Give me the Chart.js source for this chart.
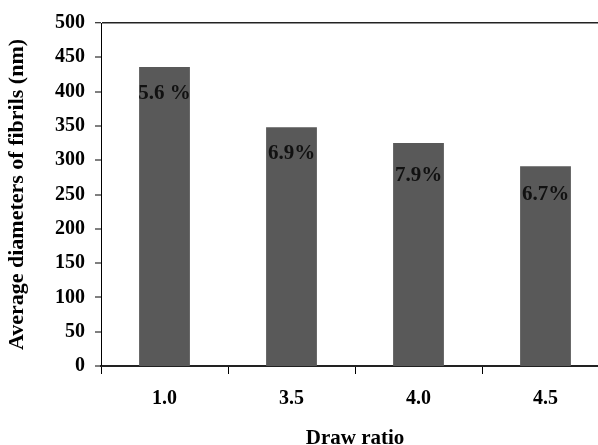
<!DOCTYPE html>
<html>
<head>
<meta charset="utf-8">
<script src="https://cdn.jsdelivr.net/npm/chart.js@4.4.1/dist/chart.umd.min.js"></script>
<style>
  html, body { margin: 0; padding: 0; background: #fff; overflow: hidden; }
  #wrap { position: relative; width: 609px; height: 445px; }
</style>
</head>
<body>
<div id="wrap"><canvas id="chart"></canvas></div>
<script>
// draw ratios on the x axis
const drawRatios = ['1.0', '3.5', '4.0', '4.5'];
// average fibril diameter (nm)
const diameters = [436, 348, 325, 291];
// text written on each bar
const barNotes = ['5.6 %', '6.9%', '7.9%', '6.7%'];
// y axis range / step
const yMin = 0, yMax = 500, yStep = 50;

const serif = "'Liberation Serif', 'Times New Roman', serif";
const ink = '#000';

// how far below the top of each bar its note sits (px)
const noteDrop = [27, 26, 33, 28];

const barNotesPlugin = {
    id: 'barNotes',
    afterDatasetsDraw(chart) {
        const ctx = chart.ctx;
        const meta = chart.getDatasetMeta(0);
        ctx.save();
        ctx.font = `bold 21px ${serif}`;
        ctx.fillStyle = '#111';
        ctx.textAlign = 'center';
        ctx.textBaseline = 'middle';
        meta.data.forEach((bar, i) => {
            ctx.fillText(barNotes[i], bar.x, bar.y + noteDrop[i]);
        });
        ctx.restore();
    }
};

new Chart(document.getElementById('chart'), {
    type: 'bar',
    data: {
        labels: drawRatios,
        datasets: [{
            data: diameters,
            backgroundColor: '#595959',
            borderWidth: 0,
            barPercentage: 0.4,
            categoryPercentage: 1.0
        }]
    },
    options: {
        responsive: true,
        maintainAspectRatio: false,
        animation: false,
        layout: { padding: { top: 23, right: 0, left: 0, bottom: 0 } },
        plugins: {
            legend: { display: false },
            tooltip: { enabled: false }
        },
        scales: {
            x: {
                grid: {
                    offset: true,
                    drawOnChartArea: false,
                    tickLength: 8,
                    tickColor: ink,
                    tickWidth: 1
                },
                border: { color: '#222', width: 2 },
                ticks: {
                    color: ink,
                    padding: 13,
                    font: { family: serif, size: 20, weight: 'bold' }
                },
                title: {
                    display: true,
                    text: 'Draw ratio',
                    color: ink,
                    padding: { top: 10, bottom: 0 },
                    font: { family: serif, size: 21, weight: 'bold', lineHeight: 0.65 }
                },
                afterFit(scale) { scale.height = 79; }
            },
            y: {
                min: yMin,
                max: yMax,
                grid: {
                    color: c => (c.tick && c.tick.value === yMax) ? '#222' : 'rgba(0,0,0,0)',
                    lineWidth: c => (c.tick && c.tick.value === yMax) ? 1.5 : 0,
                    tickLength: 6,
                    tickColor: ink,
                    tickWidth: 1
                },
                border: { color: ink, width: 1 },
                ticks: {
                    stepSize: yStep,
                    color: ink,
                    padding: 10,
                    font: { family: serif, size: 20, weight: 'bold' }
                },
                title: {
                    display: true,
                    text: 'Average diameters of fibrils (nm)',
                    color: ink,
                    padding: { top: 4, bottom: 0 },
                    font: { family: serif, size: 22, weight: 'bold' }
                },
                afterFit(scale) { scale.width = 101; }
            }
        }
    },
    plugins: [barNotesPlugin]
});
</script>
</body>
</html>
